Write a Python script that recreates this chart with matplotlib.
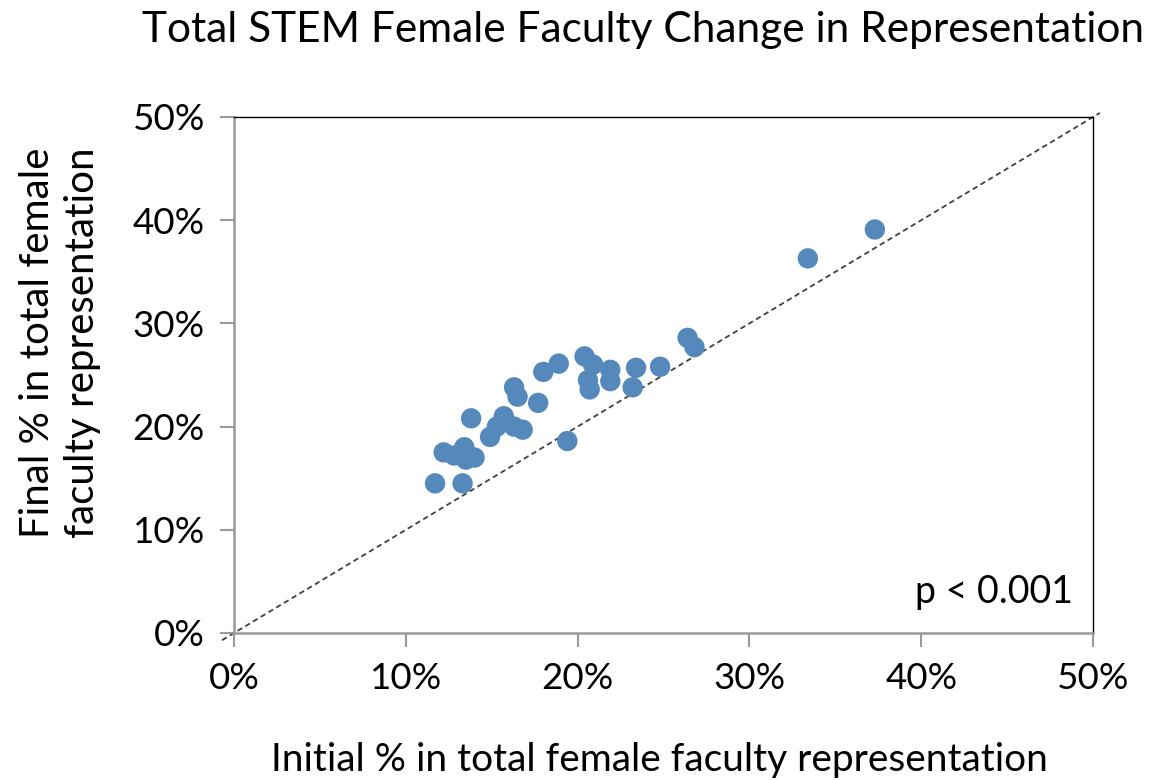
import numpy as np
import matplotlib
matplotlib.use("Agg")
import matplotlib.pyplot as plt
from matplotlib.ticker import PercentFormatter

# initial vs final share of female faculty (%)
initial = [11.7, 13.3, 12.2, 12.8, 13.4, 13.5, 14.0, 13.8, 14.9, 15.3, 15.7, 16.3,
           16.8, 16.3, 16.5, 17.7, 18.0, 18.9, 19.4, 20.4, 20.9, 20.6, 20.7, 21.9,
           21.9, 23.4, 23.2, 24.8, 26.4, 26.8, 33.4, 37.3]
final = [14.5, 14.5, 17.5, 17.2, 18.0, 16.8, 17.0, 20.8, 19.0, 20.0, 21.0, 20.0,
         19.7, 23.8, 22.9, 22.3, 25.3, 26.1, 18.6, 26.8, 26.0, 24.5, 23.6, 25.5,
         24.4, 25.7, 23.8, 25.8, 28.6, 27.7, 36.3, 39.1]

plt.rcParams["font.family"] = ["Lato", "DejaVu Sans"]

fig = plt.figure(figsize=(11.53, 7.80), dpi=100)
ax = fig.add_axes([0.203, 0.1885, 0.745, 0.6615])

ax.plot([-0.7, 50.4], [-0.7, 50.4], ls=(0, (3, 2)), color="#404040", lw=1.3,
        clip_on=False, zorder=1)
ax.scatter(initial, final, s=215, color="#5589BB", edgecolor="none", zorder=3)

ax.set_xlim(0, 50)
ax.set_ylim(0, 50)
ax.set_xticks(np.arange(0, 51, 10))
ax.set_yticks(np.arange(0, 51, 10))
ax.xaxis.set_major_formatter(PercentFormatter(decimals=0))
ax.yaxis.set_major_formatter(PercentFormatter(decimals=0))
ax.tick_params(labelsize=26.5, length=10, width=1.5, color="#999999", direction="out", pad=11)

for side in ("left", "bottom"):
    ax.spines[side].set_color("#999999")
    ax.spines[side].set_linewidth(1.8)
for side in ("top", "right"):
    ax.spines[side].set_color("black")
    ax.spines[side].set_linewidth(1.0)

ax.text(0.977, 0.045, "p < 0.001", transform=ax.transAxes, ha="right", va="bottom",
        fontsize=27)

fig.text(0.558, 0.962, "Total STEM Female Faculty Change in Representation",
         ha="center", va="center", fontsize=30.5)
fig.text(0.572, 0.026, "Initial % in total female faculty representation",
         ha="center", va="center", fontsize=28)
fig.text(0.052, 0.56, "Final % in total female\nfaculty representation",
         ha="center", va="center", rotation=90, fontsize=29, linespacing=1.25)

fig.savefig("out.png", dpi=100)
